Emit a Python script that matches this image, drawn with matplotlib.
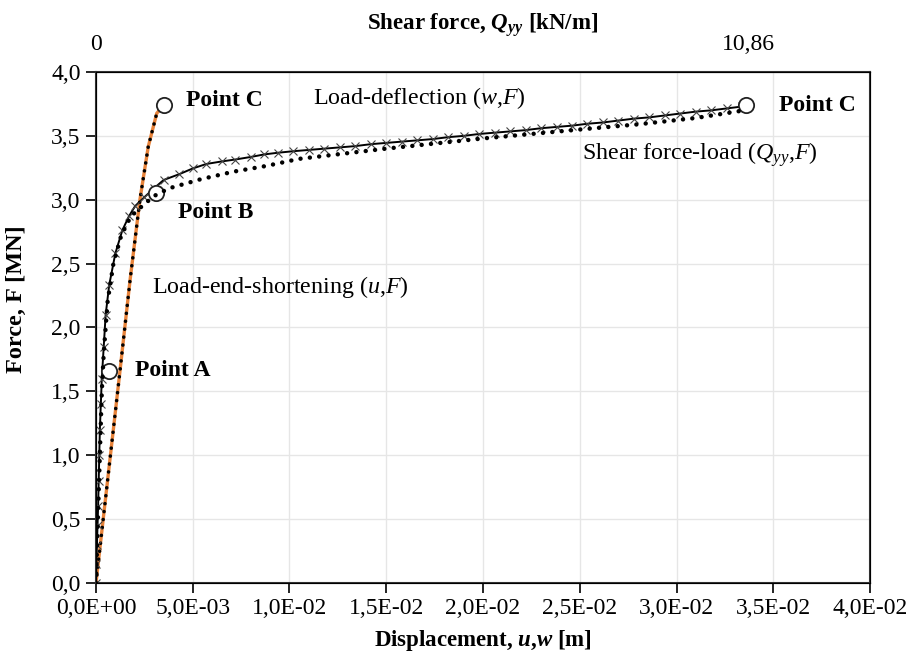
import matplotlib
matplotlib.use('Agg')
import matplotlib.pyplot as plt
from matplotlib.ticker import FuncFormatter

plt.rcParams['font.family'] = ['Liberation Serif', 'DejaVu Serif']
plt.rcParams['mathtext.fontset'] = 'custom'
plt.rcParams['mathtext.rm'] = 'Liberation Serif'
plt.rcParams['mathtext.it'] = 'Liberation Serif:italic'
plt.rcParams['mathtext.bf'] = 'Liberation Serif:bold'
plt.rcParams['mathtext.bfit'] = 'Liberation Serif:italic:bold'

# load-deflection (w, F): w [m], F [MN]
w_defl = [0.0, 0.00002, 0.00005, 0.00008, 0.00011, 0.00014, 0.00017, 0.0002, 0.00025,
          0.0003, 0.0004, 0.0005, 0.00068, 0.001, 0.00136, 0.0017, 0.00202, 0.0025,
          0.003, 0.0035, 0.0043, 0.005, 0.0057, 0.0065, 0.0072, 0.008, 0.0087, 0.0094,
          0.0102, 0.011, 0.0118, 0.0126, 0.0134, 0.0142, 0.015, 0.0158, 0.0166, 0.0174,
          0.0182, 0.019, 0.0198, 0.0206, 0.0214, 0.0222, 0.023, 0.0238, 0.0246, 0.0254,
          0.0262, 0.027, 0.0278, 0.0286, 0.0294, 0.0302, 0.031, 0.0318, 0.0326, 0.0334]
F_defl = [0.0, 0.15, 0.3, 0.45, 0.6, 0.8, 1.0, 1.2, 1.4,
          1.6, 1.85, 2.1, 2.33, 2.58, 2.76, 2.87, 2.95, 3.02,
          3.09, 3.155, 3.2, 3.245, 3.28, 3.3, 3.315, 3.335, 3.355, 3.368,
          3.38, 3.39, 3.4, 3.41, 3.42, 3.435, 3.445, 3.455, 3.465, 3.475,
          3.49, 3.5, 3.515, 3.525, 3.535, 3.545, 3.56, 3.57, 3.58, 3.595,
          3.605, 3.62, 3.635, 3.645, 3.66, 3.675, 3.69, 3.7, 3.715, 3.73]

# load-end-shortening (u, F)
u_short = [0.0, 0.0005, 0.00124, 0.00176, 0.00227, 0.0027, 0.00314, 0.0035]
F_short = [0.0, 0.67, 1.66, 2.37, 3.0, 3.415, 3.677, 3.74]

# shear force-load (Qyy [kN/m], F)
Q_shear = [0.0, 0.032, 0.064, 0.097, 0.129, 0.193, 0.29, 0.42, 0.58, 0.79, 0.97,
           1.22, 1.74, 2.29, 2.84, 3.38, 4.83, 6.45, 8.06, 9.02, 9.99, 10.80]
F_shear = [0.0, 0.5, 1.0, 1.5, 1.8, 2.2, 2.5, 2.72, 2.87, 2.96, 3.03,
           3.09, 3.16, 3.22, 3.265, 3.32, 3.4, 3.48, 3.55, 3.59, 3.64, 3.7]
Q_max = 10.86
w_at_Qmax = 0.0337

# marked points
pt_names = ['Point A', 'Point B', 'Point C', 'Point C']
pt_x = [0.00069, 0.00308, 0.0035, 0.0336]
pt_y = [1.66, 3.055, 3.74, 3.74]

fig = plt.figure(figsize=(9.09, 6.6), dpi=100)
ax = fig.add_axes([0.1056, 0.1167, 0.8515, 0.7742])

ax.plot(u_short, F_short, color='#E8833A', lw=2.4, zorder=3)
ax.plot(u_short, F_short, color='black', lw=2.6, ls=(0, (0.01, 2.2)),
        dash_capstyle='round', zorder=4)
ax.plot(w_defl, F_defl, color='black', lw=1.4, marker='x', ms=6, mew=0.8,
        markeredgecolor='#444444', zorder=5)

ax.set_xlim(0, 0.04)
ax.set_ylim(0, 4.0)
ax.set_xticks([i * 0.005 for i in range(9)])
ax.set_yticks([i * 0.5 for i in range(9)])
ax.xaxis.set_major_formatter(FuncFormatter(lambda v, p: f'{v:.1E}'.replace('.', ',')))
ax.yaxis.set_major_formatter(FuncFormatter(lambda v, p: f'{v:.1f}'.replace('.', ',')))
ax.grid(True, color='#E6E6E6', lw=1.0)
ax.set_axisbelow(True)
ax.tick_params(axis='both', direction='out', length=7, width=1.2, labelsize=17, pad=4)
for s in ax.spines.values():
    s.set_linewidth(1.5)
    s.set_color('#333333')
ax.set_xlabel(r'Displacement, $\mathbfit{u}$,$\mathbfit{w}$ [m]', fontsize=16.5,
              fontweight='bold', labelpad=6)
ax.set_ylabel('Force, F [MN]', fontsize=17.5, fontweight='bold')
ax.yaxis.set_label_coords(-0.089, 0.555)

ax2 = ax.twiny()
ax2.set_xlim(0, Q_max * 0.04 / w_at_Qmax)
ax2.plot(Q_shear, F_shear, color='black', lw=3.2, ls=(0, (0.01, 2.1)),
         dash_capstyle='round', zorder=4)
ax2.set_xticks([0, Q_max])
ax2.set_xticklabels(['0', '10,86'])
ax2.tick_params(axis='x', length=0, labelsize=17, pad=12)
ax2.set_xlabel(r'Shear force, $\mathbfit{Q}_{\mathbfit{yy}}$ [kN/m]', fontsize=16.5,
               fontweight='bold', labelpad=3)

ax.plot(pt_x, pt_y, 'o', ms=11, mfc='white', mec='#222222', mew=1.3, zorder=6)

ax.text(0.0020, 1.66, 'Point A', fontsize=17, fontweight='bold', va='center', ha='left')
ax.text(0.00424, 2.9, 'Point B', fontsize=17, fontweight='bold', va='center', ha='left')
ax.text(0.00465, 3.78, 'Point C', fontsize=17, fontweight='bold', va='center', ha='left')
ax.text(0.0353, 3.74, 'Point C', fontsize=17, fontweight='bold', va='center', ha='left')

ax.text(0.0112, 3.80, r'Load-deflection ($w$,$F$)', fontsize=17.3, va='center', ha='left')
ax.text(0.0251, 3.35, r'Shear force-load ($Q_{yy}$,$F$)', fontsize=17.3, va='center', ha='left')
ax.text(0.0029, 2.32, r'Load-end-shortening ($u$,$F$)', fontsize=17.3, va='center', ha='left')

fig.savefig('out.png', dpi=100)
